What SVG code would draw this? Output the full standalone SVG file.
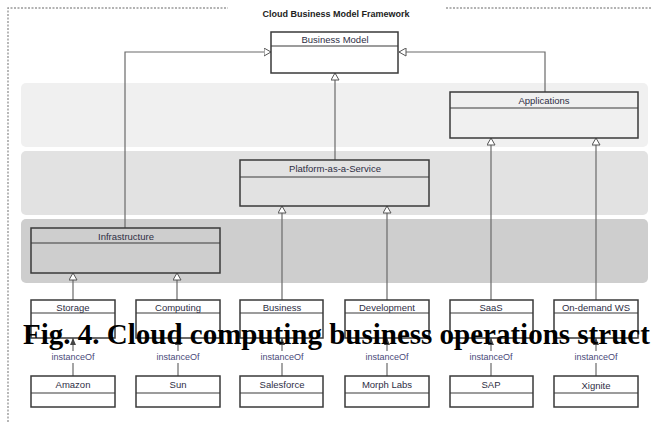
<svg xmlns="http://www.w3.org/2000/svg" width="652" height="422" viewBox="0 0 652 422">
<defs>
<style>
.frame{fill:none;stroke:#9a9a9a;stroke-width:1.4;stroke-dasharray:2,1.5}
.box{fill:none;stroke:#3a3a3a;stroke-width:1.5}
.wbox{fill:#ffffff;stroke:#3a3a3a;stroke-width:1.5}
.sep{stroke:#3a3a3a;stroke-width:1.2}
.lbl{font-family:"Liberation Sans",Arial,sans-serif;font-size:9.5px;fill:#2e2e44;text-anchor:middle}
.inst{font-family:"Liberation Sans",Arial,sans-serif;font-size:9px;fill:#4a4a7a;text-anchor:middle}
.title{font-family:"Liberation Sans",Arial,sans-serif;font-size:9px;font-weight:bold;fill:#222;text-anchor:middle}
.con{fill:none;stroke:#6a6a6a;stroke-width:1.2}
.gen{marker-end:url(#hollow)}
.dep{marker-end:url(#filled)}
.cap{font-family:"Liberation Serif","Times New Roman",serif;font-size:29px;font-weight:bold;fill:#000}
</style>
<marker id="hollow" viewBox="0 0 8 9" refX="7.5" refY="4.5" markerWidth="8" markerHeight="9" markerUnits="userSpaceOnUse" orient="auto">
<path d="M0.5,0.5 L7.5,4.5 L0.5,8.5 z" fill="#ffffff" stroke="#555" stroke-width="1"/>
</marker>
<marker id="filled" viewBox="0 0 7 6" refX="7" refY="3" markerWidth="7" markerHeight="6" markerUnits="userSpaceOnUse" orient="auto">
<path d="M0,0 L7,3 L0,6 z" fill="#444"/>
</marker>
</defs>
<rect width="652" height="422" fill="#ffffff"/>
<g id="frame">
<path class="frame" d="M8,422 L8,8 L228,8 M446,8 L652,8"/>
<text class="title" x="336" y="17">Cloud Business Model Framework</text>
</g>
<g id="bands">
<rect x="21" y="83" width="627" height="64" rx="5" fill="#f0f0f0"/>
<rect x="21" y="151" width="627" height="64" rx="5" fill="#e2e2e2"/>
<rect x="21" y="219" width="627" height="64" rx="5" fill="#cecece"/>
</g>
<g id="connectors">
<path class="con gen" d="M125,228 L125,52 L271,52"/>
<path class="con gen" d="M545,92 L545,52 L399,52"/>
<path class="con gen" d="M335,160 L335,73"/>
<path class="con gen" d="M73,300 L73,273"/>
<path class="con gen" d="M177,300 L177,273"/>
<path class="con gen" d="M282,300 L282,206"/>
<path class="con gen" d="M387,300 L387,206"/>
<path class="con gen" d="M491,300 L491,138"/>
<path class="con gen" d="M596,300 L596,138"/>
<path class="con" d="M73,376 L73,363 M178,376 L178,363 M282,376 L282,363 M387,376 L387,363 M491,376 L491,363 M596,376 L596,363"/>
<path class="con dep" d="M73,351 L73,338"/>
<path class="con dep" d="M178,351 L178,338"/>
<path class="con dep" d="M282,351 L282,338"/>
<path class="con dep" d="M387,351 L387,338"/>
<path class="con dep" d="M491,351 L491,338"/>
<path class="con dep" d="M596,351 L596,338"/>
<text class="inst" x="73" y="360">instanceOf</text>
<text class="inst" x="178" y="360">instanceOf</text>
<text class="inst" x="282" y="360">instanceOf</text>
<text class="inst" x="387" y="360">instanceOf</text>
<text class="inst" x="491" y="360">instanceOf</text>
<text class="inst" x="596" y="360">instanceOf</text>
</g>
<g id="business-model">
<rect class="wbox" x="271" y="32" width="127" height="41"/>
<line class="sep" x1="271" y1="46" x2="398" y2="46"/>
<text class="lbl" x="335" y="43">Business Model</text>
</g>
<g id="applications">
<rect class="box" x="450" y="92" width="188" height="46"/>
<line class="sep" x1="450" y1="108" x2="638" y2="108"/>
<text class="lbl" x="544" y="104">Applications</text>
</g>
<g id="paas">
<rect class="box" x="240" y="160" width="189" height="46"/>
<line class="sep" x1="240" y1="177" x2="429" y2="177"/>
<text class="lbl" x="335" y="172">Platform-as-a-Service</text>
</g>
<g id="infrastructure">
<rect class="box" x="31" y="228" width="189" height="45"/>
<line class="sep" x1="31" y1="243" x2="220" y2="243"/>
<text class="lbl" x="126" y="240">Infrastructure</text>
</g>
<g id="storage">
<rect class="wbox" x="31" y="300" width="84" height="38"/>
<line class="sep" x1="31" y1="313" x2="115" y2="313"/>
<text class="lbl" x="73" y="311">Storage</text>
</g>
<g id="computing">
<rect class="wbox" x="136" y="300" width="84" height="38"/>
<line class="sep" x1="136" y1="313" x2="220" y2="313"/>
<text class="lbl" x="178" y="311">Computing</text>
</g>
<g id="business">
<rect class="wbox" x="240" y="300" width="83" height="38"/>
<line class="sep" x1="240" y1="313" x2="323" y2="313"/>
<text class="lbl" x="282" y="311">Business</text>
</g>
<g id="development">
<rect class="wbox" x="345" y="300" width="84" height="38"/>
<line class="sep" x1="345" y1="313" x2="429" y2="313"/>
<text class="lbl" x="387" y="311">Development</text>
</g>
<g id="saas">
<rect class="wbox" x="450" y="300" width="83" height="38"/>
<line class="sep" x1="450" y1="313" x2="533" y2="313"/>
<text class="lbl" x="491" y="311">SaaS</text>
</g>
<g id="on-demand-ws">
<rect class="wbox" x="554" y="300" width="84" height="38"/>
<line class="sep" x1="554" y1="313" x2="638" y2="313"/>
<text class="lbl" x="596" y="311">On-demand WS</text>
</g>
<g id="amazon">
<rect class="wbox" x="31" y="376" width="84" height="31"/>
<line class="sep" x1="31" y1="393" x2="115" y2="393"/>
<text class="lbl" x="73" y="388">Amazon</text>
</g>
<g id="sun">
<rect class="wbox" x="136" y="376" width="84" height="31"/>
<line class="sep" x1="136" y1="393" x2="220" y2="393"/>
<text class="lbl" x="178" y="388">Sun</text>
</g>
<g id="salesforce">
<rect class="wbox" x="240" y="376" width="83" height="31"/>
<line class="sep" x1="240" y1="393" x2="323" y2="393"/>
<text class="lbl" x="282" y="388">Salesforce</text>
</g>
<g id="morph-labs">
<rect class="wbox" x="345" y="376" width="84" height="31"/>
<line class="sep" x1="345" y1="393" x2="429" y2="393"/>
<text class="lbl" x="387" y="388">Morph Labs</text>
</g>
<g id="sap">
<rect class="wbox" x="450" y="376" width="83" height="31"/>
<line class="sep" x1="450" y1="393" x2="533" y2="393"/>
<text class="lbl" x="491" y="388">SAP</text>
</g>
<g id="xignite">
<rect class="wbox" x="554" y="376" width="84" height="31"/>
<line class="sep" x1="554" y1="393" x2="638" y2="393"/>
<text class="lbl" x="596" y="389">Xignite</text>
</g>
<text class="cap" x="23" y="344">Fig. 4. Cloud computing business operations struct</text>
</svg>
